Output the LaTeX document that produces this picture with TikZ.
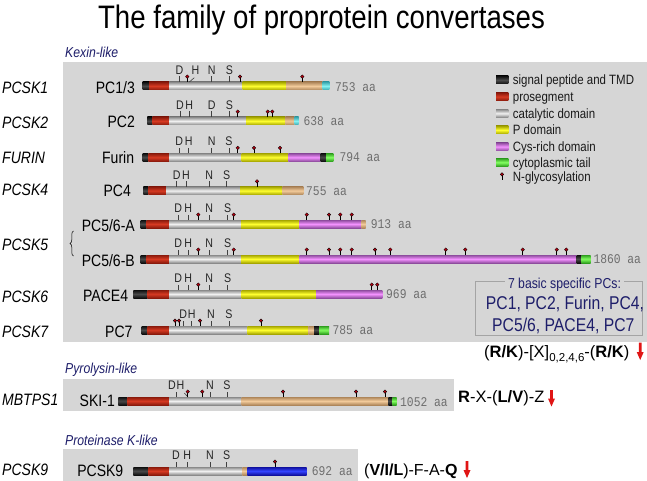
\documentclass[tikz,border=0pt]{standalone}
\usepackage{fontspec}
\setmainfont[FakeStretch=0.85]{Liberation Sans}
\newfontfamily\monof[FakeStretch=0.85]{Liberation Mono}
\newfontfamily\plainf{Liberation Sans}
\usetikzlibrary{decorations.pathreplacing}
\definecolor{panelg}{HTML}{D6D6D6}
\definecolor{navy}{HTML}{1E1E6A}
\definecolor{aagray}{HTML}{6E6E6E}
\definecolor{boxline}{HTML}{A4A4A4}
\definecolor{arrred}{HTML}{E01515}
\definecolor{glyred}{HTML}{B00010}
\definecolor{sigD}{HTML}{0E0E0E}\definecolor{sigL}{HTML}{4A4A4A}
\definecolor{proD}{HTML}{8A1A0C}\definecolor{proL}{HTML}{D63A22}
\definecolor{catD}{HTML}{8A8A8A}\definecolor{catL}{HTML}{F0F0F0}
\definecolor{pdD}{HTML}{A6A600}\definecolor{pdL}{HTML}{FFFF30}
\definecolor{tanD}{HTML}{AE865A}\definecolor{tanL}{HTML}{F2CA9A}
\definecolor{cyD}{HTML}{3AA6AE}\definecolor{cyL}{HTML}{84F2F2}
\definecolor{cysD}{HTML}{8E4C9E}\definecolor{cysL}{HTML}{F492FF}
\definecolor{grD}{HTML}{2E9E1E}\definecolor{grL}{HTML}{84FF62}
\definecolor{blD}{HTML}{10109E}\definecolor{blL}{HTML}{3444FF}
\newcounter{mkc}
\newcommand\pcsg[4]{\shade[top color=#4D,bottom color=#4D,middle color=#4L] (#1,#3-4) rectangle (#2,#3+4);}
\newcommand\pcbar[2]{\foreach \segA/\segB/\segC in {#2}{\pcsg{\segA}{\segB}{#1}{\segC}}}
\newcommand\pcgly[2]{\draw[glystem] (#1,#2-4) -- (#1,#2-8.6); \fill[glyred,draw=black,line width=0.3pt] (#1,#2-9.4) circle (1.8pt);}
\newcommand\pcglys[2]{\foreach \gx in {#2}{\pcgly{\gx}{#1}}}
\newcommand\pcmk[3]{\draw[mtick] (#1,#2-4) -- (#1,#2-9.5);\stepcounter{mkc}\node[mk] (mk\arabic{mkc}) at (#1,#2-11.3) {#3};}
\newcommand\pcmks[2]{\foreach \mx/\ml in {#2}{\pcmk{\mx}{#1}{\ml}}}
\begin{document}
\begin{tikzpicture}[x=1pt,y=-1pt,
  title/.style={font=\fontsize{32.5}{34}\selectfont,anchor=base,inner sep=0pt},
  gene/.style={font=\itshape\fontsize{16.5}{18}\selectfont,anchor=west,inner sep=0pt,text height=11.8pt,text depth=0pt},
  prot/.style={font=\fontsize{16.5}{18}\selectfont,anchor=east,inner sep=0pt,text height=11.8pt,text depth=0pt},
  fam/.style={font=\itshape\fontsize{14.4}{16}\selectfont,text=navy,anchor=west,inner sep=0pt,text height=10.3pt,text depth=0pt},
  aa/.style={font=\monof\fontsize{13.3}{14}\selectfont,text=aagray,anchor=west,inner sep=0pt,text height=8pt,text depth=0pt},
  leg/.style={font=\fontsize{13.5}{15}\selectfont,text=black!90,anchor=west,inner sep=0pt,text height=9.7pt,text depth=0pt},
  mk/.style={font=\fontsize{12.5}{13}\selectfont,text=black!85,anchor=base,inner sep=0pt},
  mtick/.style={draw=black!75,line width=0.6pt},
  glystem/.style={draw=black,line width=0.6pt},
  boxt/.style={font=\fontsize{14.4}{16}\selectfont,text=navy,inner sep=0pt,text height=10.3pt,text depth=0pt},
  boxl/.style={font=\fontsize{18.5}{20}\selectfont,text=navy,inner sep=0pt,text height=13.2pt,text depth=0pt},
  motif/.style={font=\plainf\fontsize{16.5}{18}\selectfont,anchor=west,inner sep=0pt,text height=11.8pt,text depth=0pt},
  redarr/.style={fill=arrred}]
\useasboundingbox (0,0) rectangle (647,481);
\fill[white] (0,0) rectangle (647,481);
% title
\node[title] (title) at (321.5,29) {The family of proprotein convertases};
% panels
\fill[panelg] (63,62) rectangle (647,341.7);
\fill[panelg] (63,379) rectangle (454,410.7);
\fill[panelg] (63,449) rectangle (358,481);
\node[fam] (fk) at (65,52) {Kexin-like};
\node[fam] (fp) at (65,368.3) {Pyrolysin-like};
\node[fam] (fq) at (65,440.7) {Proteinase K-like};
% gene names
\node[gene] (g1) at (2,88) {PCSK1};
\node[gene] (g2) at (2,123) {PCSK2};
\node[gene] (g3) at (2,158) {FURIN};
\node[gene] (g4) at (2,190) {PCSK4};
\node[gene] (g5) at (2,245) {PCSK5};
\node[gene] (g6) at (2,296.7) {PCSK6};
\node[gene] (g7) at (2,331.7) {PCSK7};
\node[gene] (g8) at (2,400) {MBTPS1};
\node[gene] (g9) at (2,470) {PCSK9};
\draw[decorate,decoration={brace,amplitude=3.5pt},line width=0.5pt] (73.5,256) -- (73.5,231);
% protein labels
\node[prot] (p1) at (135,88) {PC1/3};
\node[prot] (p2) at (135,122) {PC2};
\node[prot] (p3) at (134.3,157.5) {Furin};
\node[prot] (p4) at (131,190.5) {PC4};
\node[prot] (p5) at (135,226) {PC5/6-A};
\node[prot] (p6) at (135,260.7) {PC5/6-B};
\node[prot] (p7) at (128.3,296) {PACE4};
\node[prot] (p8) at (132.7,331.7) {PC7};
\node[prot] (p9) at (115,400.5) {SKI-1};
\node[prot] (p10) at (123.5,470.5) {PCSK9};
% bars
\pcbar{86}{142.7/149/sig,149/169.3/pro,169.3/242.7/cat,242.7/286/pd,286/322.7/tan,322.7/329.3/cy}
\pcbar{121}{147.3/152.7/sig,152.7/169.3/pro,169.3/246/cat,246/285.3/pd,285.3/294.7/tan,294.7/298.7/cy}
\pcbar{157.3}{142.7/148.3/sig,148.3/169.3/pro,169.3/241.7/cat,241.7/288.3/pd,288.3/320.7/cys,320.7/326/sig,326/333.3/gr}
\pcbar{190.7}{143.3/148.3/sig,148.3/166/pro,166/240/cat,240/282.7/pd,282.7/303.3/tan}
\pcbar{224}{140.7/146.7/sig,146.7/169/pro,169/241/cat,241/299.3/pd,299.3/361.7/cys,361.7/365.7/tan}
\pcbar{259}{140.7/146.7/sig,146.7/169/pro,169/241/cat,241/299.3/pd,299.3/576.7/cys,576.7/581.7/sig,581.7/590.7/gr}
\pcbar{294}{133.3/147.7/sig,147.7/169.3/pro,169.3/241.7/cat,241.7/316/pd,316/382.3/cys}
\pcbar{330}{141.7/147.7/sig,147.7/169.3/pro,169.3/247.3/cat,247.3/308.3/pd,308.3/314/tan,314/319.3/sig,319.3/329/gr}
\pcbar{401}{118.3/127.3/sig,127.3/169/pro,169/241.7/cat,241.7/388.3/tan,388.3/392.7/sig,392.7/396.7/gr}
\pcbar{471}{133.3/148.3/sig,148.3/169/pro,169/242.3/cat,242.3/247.7/tan,247.3/306.7/bl}
% lengths
\node[aa] (a1) at (335,87.7) {753 aa};
\node[aa] (a2) at (303.3,121.5) {638 aa};
\node[aa] (a3) at (339.3,157.7) {794 aa};
\node[aa] (a4) at (306,191.2) {755 aa};
\node[aa] (a5) at (370.7,224.5) {913 aa};
\node[aa] (a6) at (593.3,259.5) {1860 aa};
\node[aa] (a7) at (386,294.5) {969 aa};
\node[aa] (a8) at (332.3,330.5) {785 aa};
\node[aa] (a9) at (400,402) {1052 aa};
\node[aa] (a10) at (311.7,471.5) {692 aa};
% marks and glycosylation
\pcmks{86}{179.5/D,211.7/N,229.3/S}
\draw[mtick] (189.3,86-4) -- (194.3,86-8.3);
\node[mk] (h1) at (195.5,86-11.3) {H};
\pcglys{86}{187.3,240,302.3}
\pcmks{121}{180/D,189.3/H,211.7/D,229.3/S}
\pcglys{121}{237.7,267.7,272.3}
\pcmks{157.3}{179.3/D,188.7/H,211.7/N,229/S}
\pcglys{157.3}{237.7,254,280}
\pcmks{190.7}{176.7/D,186/H,209.3/N,226.7/S}
\pcglys{190.7}{257}
\pcmks{224}{178.3/D,188.3/H,209.3/N,227.7/S}
\pcglys{224}{198.3,233.7,306.7,329,340.3,351.7}
\pcmks{259}{178.3/D,188.3/H,209.3/N,227.7/S}
\pcglys{259}{198.3,233.7,306.7,329,340.3,351.7,375,390.3,445.7,465.3,522.7,556.7,566.3}
\pcmks{294}{178.3/D,188.3/H,209.3/N,227.7/S}
\pcglys{294}{198.3,371.7,377.3}
\pcmks{330}{183.3/D,191.7/H,211/N,229/S}
\pcglys{330}{175,179,200,261}
\draw[mtick] (176.5,401-4) -- (176.5,401-9.5);
\node[mk] (d9) at (172,401-11.3) {D};
\node[mk] (h9) at (180.5,401-11.3) {H};
\draw[mtick] (188,401-4) -- (184.3,401-8);
\pcmks{401}{210/N,227/S}
\pcglys{401}{187.7,202.3,283,356,385}
\pcmks{471}{176/D,187.3/H,210/N,226.7/S}
\pcglys{471}{275}
% legend
\pcsg{496}{508.3}{80}{sig}
\pcsg{496}{508.3}{96.7}{pro}
\pcsg{496}{508.3}{113.3}{cat}
\pcsg{496}{508.3}{130}{pd}
\pcsg{496}{508.3}{146.7}{cys}
\pcsg{496}{508.3}{162.3}{gr}
\pcgly{502}{183.8}
\node[leg] (l1) at (512.7,80) {signal peptide and TMD};
\node[leg] (l2) at (512.7,96.7) {prosegment};
\node[leg] (l3) at (512.7,113.3) {catalytic domain};
\node[leg] (l4) at (512.7,130) {P domain};
\node[leg] (l5) at (512.7,146.7) {Cys-rich domain};
\node[leg] (l6) at (512.7,162.3) {cytoplasmic tail};
\node[leg] (l7) at (512.7,176.7) {N-glycosylation};
% box
\node[boxt] (bt) at (564.5,283.3) {7 basic specific PCs:};
\draw[boxline,line width=0.8pt] ([xshift=-3pt]bt.west |- 0,281.7) -- (475.7,281.7) -- (475.7,335) -- (642.7,335) -- (642.7,281.7) -- ([xshift=3pt]bt.east |- 0,281.7);
\node[boxl] (b1) at (565,303.3) {PC1, PC2, Furin, PC4,};
\node[boxl] (b2) at (563.3,325) {PC5/6, PACE4, PC7};
% motifs
\node[motif] (mo1) at (484,351.7) {(\textbf{R/K})-[X]\raisebox{-0.45ex}{\fontsize{11.5}{12}\selectfont 0,2,4,6}-(\textbf{R/K})};
\node[motif] (mo2) at (458,397) {\textbf{R}-X-(\textbf{L/V})-Z};
\node[motif,font=\plainf\fontsize{16}{17}\selectfont] (mo3) at (364,470) {(\textbf{V/I/L})-F-A-\textbf{Q}};
\fill[redarr] (638.9,342.5) -- (641.5,342.5) -- (641.5,352) -- (643.7,352) -- (640.2,360) -- (636.7,352) -- (638.9,352) -- cycle;
\fill[redarr] (550.2,390) -- (552.8,390) -- (552.8,398.5) -- (555,398.5) -- (551.5,406.5) -- (548,398.5) -- (550.2,398.5) -- cycle;
\fill[redarr] (465.7,461) -- (468.3,461) -- (468.3,470) -- (470.5,470) -- (467,478) -- (463.5,470) -- (465.7,470) -- cycle;
\end{tikzpicture}
\end{document}
